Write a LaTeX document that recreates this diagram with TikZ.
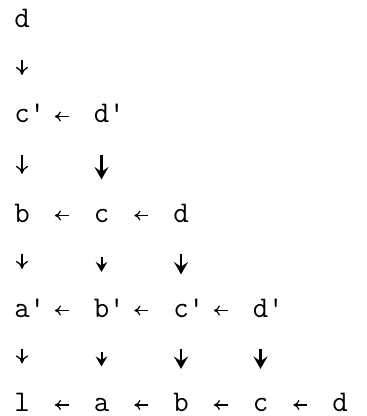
\documentclass[tikz,border=0pt]{standalone}
\usetikzlibrary{arrows.meta}
\begin{document}
\begin{tikzpicture}[x=0.5pt, y=-0.5pt, line width=0.6pt,
  font=\fontsize{15}{18}\selectfont\ttfamily,
  ltr/.style={inner sep=0pt, text height=6.5pt, text depth=0pt},
  harr/.style={-{To[length=3pt,width=5pt]}, line width=0.6pt,
    shorten <=12.3pt, shorten >=12.3pt},
  varr/.style={-{To[length=4pt,width=6pt]}, line width=0.65pt,
    shorten <=15.75pt, shorten >=17.25pt},
  varrm/.style={-{Stealth[length=5pt,width=5.8pt,inset=1.8pt]}, line width=1pt,
    shorten <=17pt, shorten >=15.75pt},
  varrb/.style={-{Stealth[length=6.2pt,width=7pt,inset=2.4pt]}, line width=1.2pt,
    shorten <=15.75pt, shorten >=14.5pt}]
  \useasboundingbox (0,0) rectangle (366,416);
  % column i: x = 22 + 79.5 i, letter rows at the middle of the x-height
  \node[ltr] (d1) at (22,21.5) {d};
  \node[ltr] (c2) at (22,116.5) {c\rlap{'}};
  \node[ltr] (d2) at (101.5,116.5) {d\rlap{'}};
  \node[ltr] (b3) at (22,215.5) {b};
  \node[ltr] (c3) at (101.5,215.5) {c};
  \node[ltr] (d3) at (181,215.5) {d};
  \node[ltr] (a4) at (22,310.5) {a\rlap{'}};
  \node[ltr] (b4) at (101.5,310.5) {b\rlap{'}};
  \node[ltr] (c4) at (181,310.5) {c\rlap{'}};
  \node[ltr] (d4) at (260.5,310.5) {d\rlap{'}};
  \node[ltr] (l5) at (22,405) {l};
  \node[ltr] (a5) at (101.5,405) {a};
  \node[ltr] (b5) at (181,405) {b};
  \node[ltr] (c5) at (260.5,405) {c};
  \node[ltr] (d5) at (340,405) {d};
  % arrows along a row point to the left, arrows between rows point down
  \draw[harr] (d2) -- (c2);
  \draw[harr] (c3) -- (b3); \draw[harr] (d3) -- (c3);
  \draw[harr] (b4) -- (a4); \draw[harr] (c4) -- (b4); \draw[harr] (d4) -- (c4);
  \draw[harr] (a5) -- (l5); \draw[harr] (b5) -- (a5);
  \draw[harr] (c5) -- (b5); \draw[harr] (d5) -- (c5);
  \draw[varr] (d1) -- (c2);
  \draw[varr] (c2) -- (b3); \draw[varrb] (d2) -- (c3);
  \draw[varr] (b3) -- (a4); \draw[varrm] (c3) -- (b4); \draw[varrb] (d3) -- (c4);
  \draw[varr] (a4) -- (l5); \draw[varrm] (b4) -- (a5);
  \draw[varrb] (c4) -- (b5); \draw[varrb] (d4) -- (c5);
\end{tikzpicture}
\end{document}
